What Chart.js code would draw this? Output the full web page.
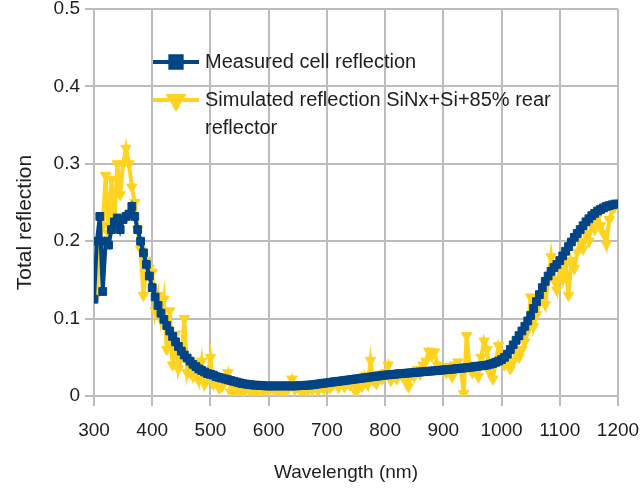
<!DOCTYPE html>
<html>
<head>
<meta charset="utf-8">
<script src="https://cdn.jsdelivr.net/npm/chart.js@4.4.0/dist/chart.umd.min.js"></script>
<style>
  html, body { margin: 0; padding: 0; background: #fff; }
  #wrap { width: 640px; height: 492px; }
</style>
</head>
<body>
<div id="wrap"><canvas id="reflChart" width="640" height="492"></canvas></div>
<script>
// wavelength grid (nm), 5 nm steps
const wavelengths = [
  300, 305, 310, 315, 320, 325, 330, 335, 340, 345,
  350, 355, 360, 365, 370, 375, 380, 385, 390, 395,
  400, 405, 410, 415, 420, 425, 430, 435, 440, 445,
  450, 455, 460, 465, 470, 475, 480, 485, 490, 495,
  500, 505, 510, 515, 520, 525, 530, 535, 540, 545,
  550, 555, 560, 565, 570, 575, 580, 585, 590, 595,
  600, 605, 610, 615, 620, 625, 630, 635, 640, 645,
  650, 655, 660, 665, 670, 675, 680, 685, 690, 695,
  700, 705, 710, 715, 720, 725, 730, 735, 740, 745,
  750, 755, 760, 765, 770, 775, 780, 785, 790, 795,
  800, 805, 810, 815, 820, 825, 830, 835, 840, 845,
  850, 855, 860, 865, 870, 875, 880, 885, 890, 895,
  900, 905, 910, 915, 920, 925, 930, 935, 940, 945,
  950, 955, 960, 965, 970, 975, 980, 985, 990, 995,
  1000, 1005, 1010, 1015, 1020, 1025, 1030, 1035, 1040, 1045,
  1050, 1055, 1060, 1065, 1070, 1075, 1080, 1085, 1090, 1095,
  1100, 1105, 1110, 1115, 1120, 1125, 1130, 1135, 1140, 1145,
  1150, 1155, 1160, 1165, 1170, 1175, 1180, 1185, 1190, 1195,
  1200
];

// measured total reflection of the cell
const measured = [
  0.125, 0.200, 0.232, 0.135, 0.200, 0.195, 0.215, 0.225, 0.230, 0.215,
  0.228, 0.232, 0.235, 0.245, 0.232, 0.215, 0.200, 0.185, 0.170, 0.155,
  0.140, 0.128, 0.117, 0.107, 0.099, 0.091, 0.084, 0.077, 0.070, 0.064,
  0.058, 0.053, 0.049, 0.045, 0.041, 0.038, 0.035, 0.033, 0.031, 0.029,
  0.028, 0.027, 0.025, 0.024, 0.023, 0.022, 0.021, 0.020, 0.019, 0.018,
  0.017, 0.016, 0.0155, 0.015, 0.0145, 0.014, 0.014, 0.0135, 0.0135, 0.013,
  0.013, 0.013, 0.013, 0.013, 0.013, 0.013, 0.013, 0.013, 0.013, 0.013,
  0.0132, 0.0135, 0.0135, 0.014, 0.014, 0.0145, 0.015, 0.0155, 0.016, 0.0165,
  0.017, 0.0175, 0.018, 0.0185, 0.019, 0.0195, 0.020, 0.0205, 0.021, 0.0215,
  0.022, 0.0225, 0.023, 0.0235, 0.024, 0.0245, 0.025, 0.0255, 0.026, 0.0265,
  0.027, 0.0273, 0.0276, 0.028, 0.0284, 0.0288, 0.029, 0.0294, 0.0297, 0.030,
  0.0304, 0.0307, 0.031, 0.0313, 0.0316, 0.032, 0.0323, 0.0326, 0.033, 0.0333,
  0.0336, 0.034, 0.0343, 0.0347, 0.035, 0.0354, 0.0358, 0.0362, 0.0366, 0.037,
  0.0375, 0.038, 0.0385, 0.039, 0.0395, 0.040, 0.041, 0.042, 0.0435, 0.045,
  0.047, 0.050, 0.054, 0.060, 0.066, 0.072, 0.078, 0.084, 0.090, 0.097,
  0.104, 0.113, 0.122, 0.131, 0.140, 0.148, 0.155, 0.161, 0.166, 0.170,
  0.175, 0.181, 0.187, 0.193, 0.199, 0.205, 0.210, 0.215, 0.220, 0.225,
  0.229, 0.233, 0.236, 0.239, 0.241, 0.243, 0.245, 0.246, 0.247, 0.248,
  0.248
];

// simulated reflection, SiNx + Si + 85% rear reflector
const simulated = [
  0.160, 0.130, 0.200, 0.220, 0.285, 0.210, 0.280, 0.220, 0.300, 0.260,
  0.300, 0.320, 0.300, 0.270, 0.250, 0.215, 0.190, 0.130, 0.175, 0.165,
  0.160, 0.110, 0.130, 0.100, 0.125, 0.060, 0.110, 0.040, 0.080, 0.035,
  0.050, 0.100, 0.030, 0.045, 0.025, 0.035, 0.020, 0.045, 0.015, 0.025,
  0.050, 0.015, 0.020, 0.010, 0.012, 0.020, 0.030, 0.005, 0.008, 0.004,
  0.010, 0.003, 0.008, 0.012, 0.004, 0.009, 0.006, 0.012, 0.005, 0.010,
  0.006, 0.012, 0.007, 0.009, 0.004, 0.011, 0.006, 0.010, 0.022, 0.008,
  0.012, 0.006, 0.010, 0.004, 0.012, 0.008, 0.015, 0.007, 0.012, 0.009,
  0.016, 0.010, 0.014, 0.020, 0.011, 0.018, 0.012, 0.020, 0.014, 0.022,
  0.005, 0.018, 0.012, 0.026, 0.015, 0.046, 0.020, 0.016, 0.028, 0.022,
  0.030, 0.040, 0.020, 0.026, 0.022, 0.030, 0.025, 0.020, 0.012, 0.030,
  0.025, 0.034, 0.028, 0.040, 0.045, 0.058, 0.052, 0.057, 0.040, 0.035,
  0.033, 0.030, 0.038, 0.025, 0.040, 0.044, 0.035, 0.003, 0.078, 0.040,
  0.030, 0.035, 0.025, 0.050, 0.071, 0.060, 0.030, 0.022, 0.045, 0.065,
  0.055, 0.040, 0.045, 0.035, 0.045, 0.055, 0.050, 0.060, 0.070, 0.085,
  0.128, 0.090, 0.105, 0.120, 0.130, 0.118, 0.150, 0.180, 0.150, 0.137,
  0.165, 0.150, 0.170, 0.130, 0.175, 0.165, 0.186, 0.200, 0.190, 0.210,
  0.200, 0.225, 0.215, 0.232, 0.220, 0.210, 0.196, 0.228, 0.240, 0.245,
  0.247
];

const seriesNames = ['Measured cell reflection', 'Simulated reflection SiNx+Si+85% rear reflector'];
// legend text broken the way it wraps in the box
const legendRows = [['Measured cell reflection'], ['Simulated reflection SiNx+Si+85% rear', 'reflector']];
const xTitle = 'Wavelength (nm)';
const yTitle = 'Total reflection';

const FONT = "'Liberation Sans', Arial, sans-serif";
const TEXT_COLOR = '#1e1e1e';
const GRID_COLOR = '#bcbcbc';
const BLUE = '#004586';
const YELLOW = '#ffd320';

const toPoints = ys => wavelengths.map((w, i) => ({ x: w, y: ys[i] }));

// axis titles + legend box drawn inside the plot
const decorations = {
  id: 'decorations',
  afterDraw(chart) {
    const ctx = chart.ctx;
    const area = chart.chartArea;

    ctx.save();
    ctx.fillStyle = TEXT_COLOR;
    ctx.textAlign = 'center';
    ctx.textBaseline = 'alphabetic';
    ctx.font = '19px ' + FONT;
    ctx.fillText(xTitle, (area.left + area.right) / 2 - 10, 478);
    ctx.translate(31, (area.top + area.bottom) / 2 + 20);
    ctx.rotate(-Math.PI / 2);
    ctx.font = '21px ' + FONT;
    ctx.fillText(yTitle, 0, 0);
    ctx.restore();

    const rowY = [62, 100];
    chart.data.datasets.forEach((ds, i) => {
      const y = rowY[i];
      ctx.save();
      ctx.strokeStyle = ds.borderColor;
      ctx.lineWidth = 4;
      ctx.beginPath();
      ctx.moveTo(153, y);
      ctx.lineTo(199, y);
      ctx.stroke();
      ctx.fillStyle = ds.pointBackgroundColor;
      ctx.strokeStyle = ds.pointBorderColor;
      Chart.helpers.drawPoint(ctx, {
        pointStyle: ds.pointStyle,
        rotation: ds.pointRotation || 0,
        radius: 8,
        borderWidth: 1
      }, 176, y);
      ctx.fillStyle = TEXT_COLOR;
      ctx.font = '20px ' + FONT;
      ctx.textAlign = 'left';
      ctx.textBaseline = 'alphabetic';
      legendRows[i].forEach((line, k) => ctx.fillText(line, 205, y + 6 + k * 28));
      ctx.restore();
    });
  }
};

new Chart(document.getElementById('reflChart'), {
  type: 'line',
  data: {
    datasets: [
      {
        label: seriesNames[0],
        data: toPoints(measured),
        borderColor: BLUE,
        backgroundColor: BLUE,
        pointBackgroundColor: BLUE,
        pointBorderColor: BLUE,
        borderWidth: 4,
        pointStyle: 'rect',
        pointRadius: 5.5,
        pointBorderWidth: 1,
        tension: 0
      },
      {
        label: seriesNames[1],
        data: toPoints(simulated),
        borderColor: YELLOW,
        backgroundColor: YELLOW,
        pointBackgroundColor: YELLOW,
        pointBorderColor: YELLOW,
        borderWidth: 4,
        pointStyle: 'triangle',
        pointRotation: 180,
        pointRadius: 6,
        pointBorderWidth: 1,
        tension: 0
      }
    ]
  },
  options: {
    responsive: false,
    animation: false,
    events: [],
    layout: { padding: { top: 9, right: 22, left: 0, bottom: 0 } },
    plugins: {
      legend: { display: false },
      tooltip: { enabled: false }
    },
    scales: {
      x: {
        type: 'linear',
        min: 300,
        max: 1200,
        ticks: {
          stepSize: 100,
          color: TEXT_COLOR,
          font: { family: FONT, size: 19 },
          padding: 13,
          maxRotation: 0,
          callback: v => String(v)
        },
        grid: { color: GRID_COLOR, lineWidth: 2, tickLength: 10, tickColor: GRID_COLOR },
        border: { color: GRID_COLOR, width: 2 },
        afterFit(s) { s.height = 96; s.paddingLeft = 0; s.paddingRight = 0; }
      },
      y: {
        min: 0,
        max: 0.5,
        ticks: { stepSize: 0.1, color: TEXT_COLOR, font: { family: FONT, size: 19 }, padding: 5 },
        grid: { color: GRID_COLOR, lineWidth: 2, tickLength: 9, tickColor: GRID_COLOR },
        border: { color: GRID_COLOR, width: 2 },
        afterFit(s) { s.width = 94; s.paddingTop = 0; s.paddingBottom = 0; }
      }
    }
  },
  plugins: [decorations]
});
</script>
</body>
</html>
